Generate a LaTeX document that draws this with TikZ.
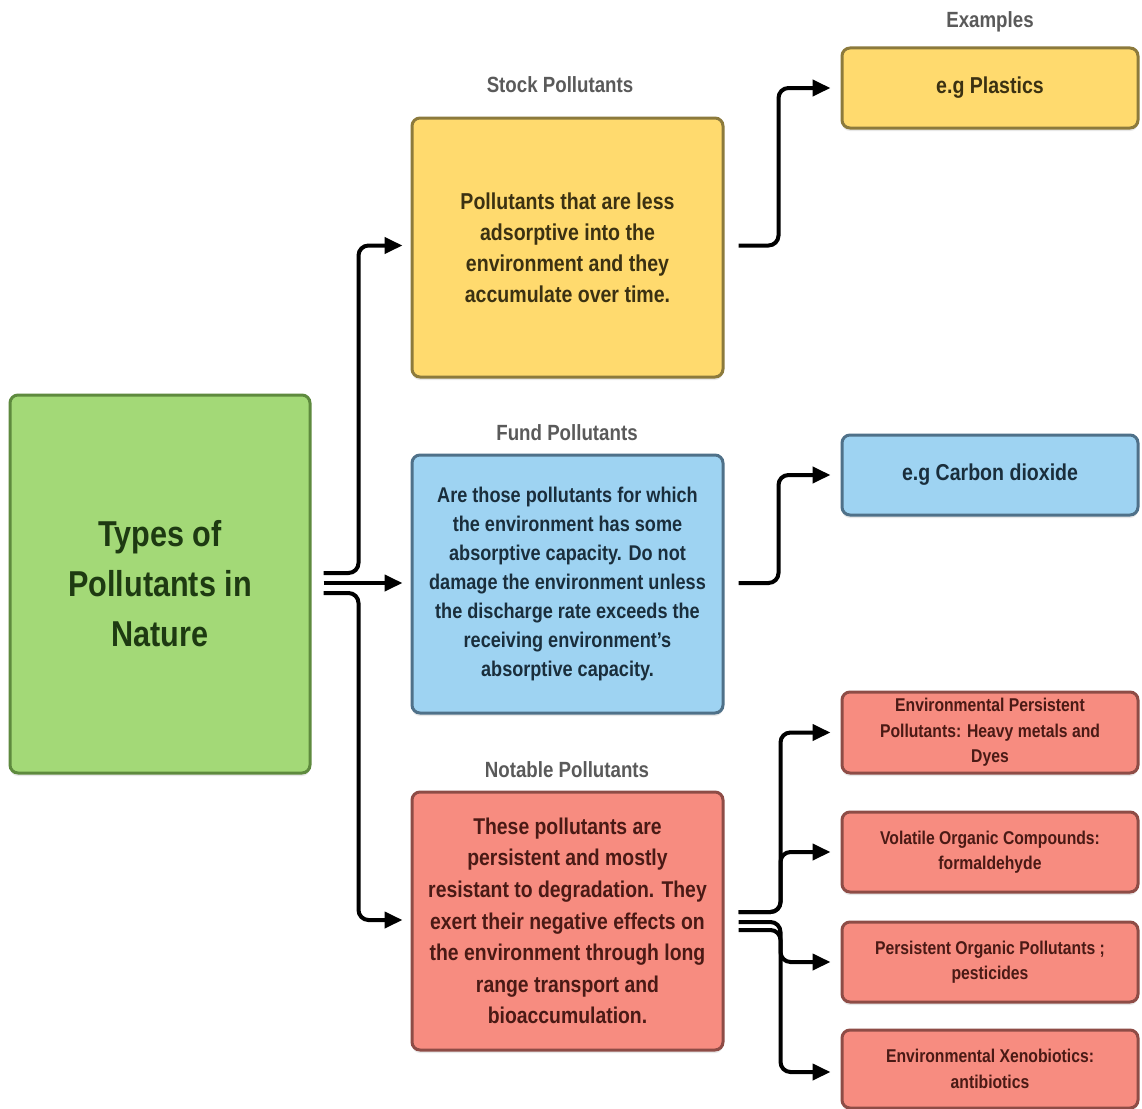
\documentclass[tikz,border=0pt]{standalone}
\usepackage{fontspec}
\setmainfont[FakeStretch=0.85]{Liberation Sans}
\usetikzlibrary{calc,arrows.meta,shadows}
\definecolor{gfill}{HTML}{A3D977}\definecolor{gdraw}{HTML}{5E8A3E}\definecolor{gtext}{HTML}{1E3A12}
\definecolor{yfill}{HTML}{FFDA6E}\definecolor{ydraw}{HTML}{8C7A3C}\definecolor{ytext}{HTML}{3B3112}
\definecolor{bfill}{HTML}{9ED3F2}\definecolor{bdraw}{HTML}{4F7189}\definecolor{btext}{HTML}{1A2E3C}
\definecolor{rfill}{HTML}{F78C80}\definecolor{rdraw}{HTML}{8E4C46}\definecolor{rtext}{HTML}{4A1A15}
\definecolor{lgray}{HTML}{5A5A5A}
\begin{document}
\begin{tikzpicture}[x=1pt,y=-1pt,
  box/.style={draw, line width=3pt, rounded corners=8pt, inner sep=0pt, align=center,
    drop shadow={shadow xshift=0pt, shadow yshift=-3pt, opacity=0.18}},
  gbox/.style={box, fill=gfill, draw=gdraw, text=gtext},
  ybox/.style={box, fill=yfill, draw=ydraw, text=ytext},
  bbox/.style={box, fill=bfill, draw=bdraw, text=btext},
  rbox/.style={box, fill=rfill, draw=rdraw, text=rtext},
  lbl/.style={text=lgray, font=\fontsize{22}{26}\selectfont\bfseries, inner sep=0pt},
  conn/.style={line width=4pt, rounded corners=10pt, -{Triangle[length=18pt,width=16pt]}},
  connp/.style={line width=4pt, rounded corners=10pt}
]
\useasboundingbox (0,0) rectangle (1142,1108);
\fill[white] (0,0) rectangle (1142,1108);

% main boxes
\node[gbox, minimum width=300pt, minimum height=378pt,
  font=\fontsize{36}{50}\selectfont\bfseries] (green) at (160,584)
  {Types of\\Pollutants in\\Nature};
\node[ybox, minimum width=311pt, minimum height=259pt,
  font=\fontsize{23}{31}\selectfont\bfseries] (stock) at (567.5,247.5)
  {Pollutants that are less\\adsorptive into the\\environment and they\\accumulate over time.};
\node[bbox, minimum width=311pt, minimum height=258pt,
  font=\fontsize{21.3}{29}\selectfont\bfseries] (fund) at (567.5,584)
  {Are those pollutants for which\\the environment has some\\absorptive capacity. Do not\\damage the environment unless\\the discharge rate exceeds the\\receiving environment's\\absorptive capacity.};
\node[rbox, minimum width=311pt, minimum height=258pt,
  font=\fontsize{22.8}{31.6}\selectfont\bfseries] (notable) at (567.5,921)
  {These pollutants are\\persistent and mostly\\resistant to degradation. They\\exert their negative effects on\\the environment through long\\range transport and\\bioaccumulation.};

% labels
\node[lbl] (lstock) at (560,85) {Stock Pollutants};
\node[lbl] (lfund) at (567,433) {Fund Pollutants};
\node[lbl] (lnot) at (567,770) {Notable Pollutants};
\node[lbl] (lex) at (990,22) {Examples};

% example boxes
\node[ybox, minimum width=296pt, minimum height=80pt,
  font=\fontsize{23}{28}\selectfont\bfseries] (plastics) at (990,88) {e.g Plastics};
\node[bbox, minimum width=296pt, minimum height=80pt,
  font=\fontsize{23}{28}\selectfont\bfseries] (co2) at (990,475) {e.g Carbon dioxide};
\node[rbox, minimum width=296pt, minimum height=81pt,
  font=\fontsize{18.5}{25.5}\selectfont\bfseries] (r1) at (990,732.5)
  {Environmental Persistent\\Pollutants: Heavy metals and\\Dyes};
\node[rbox, minimum width=296pt, minimum height=80pt,
  font=\fontsize{18.5}{25.5}\selectfont\bfseries] (r2) at (990,852)
  {Volatile Organic Compounds:\\formaldehyde};
\node[rbox, minimum width=296pt, minimum height=80pt,
  font=\fontsize{18.5}{25.5}\selectfont\bfseries] (r3) at (990,962)
  {Persistent Organic Pollutants ;\\pesticides};
\node[rbox, minimum width=296pt, minimum height=78pt,
  font=\fontsize{18.5}{25.5}\selectfont\bfseries] (r4) at (990,1069)
  {Environmental Xenobiotics:\\antibiotics};

% connectors from the main box
\draw[conn] ($(green.east)+(12,-11)$) -| ($(stock.west)+(-52,-2)$) -- ($(stock.west)+(-8,-2)$);
\draw[conn] ($(green.east)+(12,-1)$) -- ($(fund.west)+(-8,-1)$);
\draw[conn] ($(green.east)+(12,9)$) -| ($(notable.west)+(-52,-1)$) -- ($(notable.west)+(-8,-1)$);

% connectors to examples
\draw[conn] ($(stock.east)+(14,-2)$) -| ($(plastics.west)+(-62,0)$) -- ($(plastics.west)+(-10,0)$);
\draw[conn] ($(fund.east)+(14,-1)$) -| ($(co2.west)+(-62,0)$) -- ($(co2.west)+(-10,0)$);

% connectors from notable pollutants
\draw[conn] ($(notable.east)+(14,-9)$) -| ($(r1.west)+(-60,0)$) -- ($(r1.west)+(-10,0)$);
\draw[conn] ($(notable.east)+(14,-9)$) -| ($(r2.west)+(-60,0)$) -- ($(r2.west)+(-10,0)$);
\draw[conn] ($(notable.east)+(14,1)$) -| ($(r3.west)+(-60,0)$) -- ($(r3.west)+(-10,0)$);
\draw[conn] ($(notable.east)+(14,9)$) -| ($(r4.west)+(-60,3)$) -- ($(r4.west)+(-10,3)$);
\end{tikzpicture}
\end{document}
